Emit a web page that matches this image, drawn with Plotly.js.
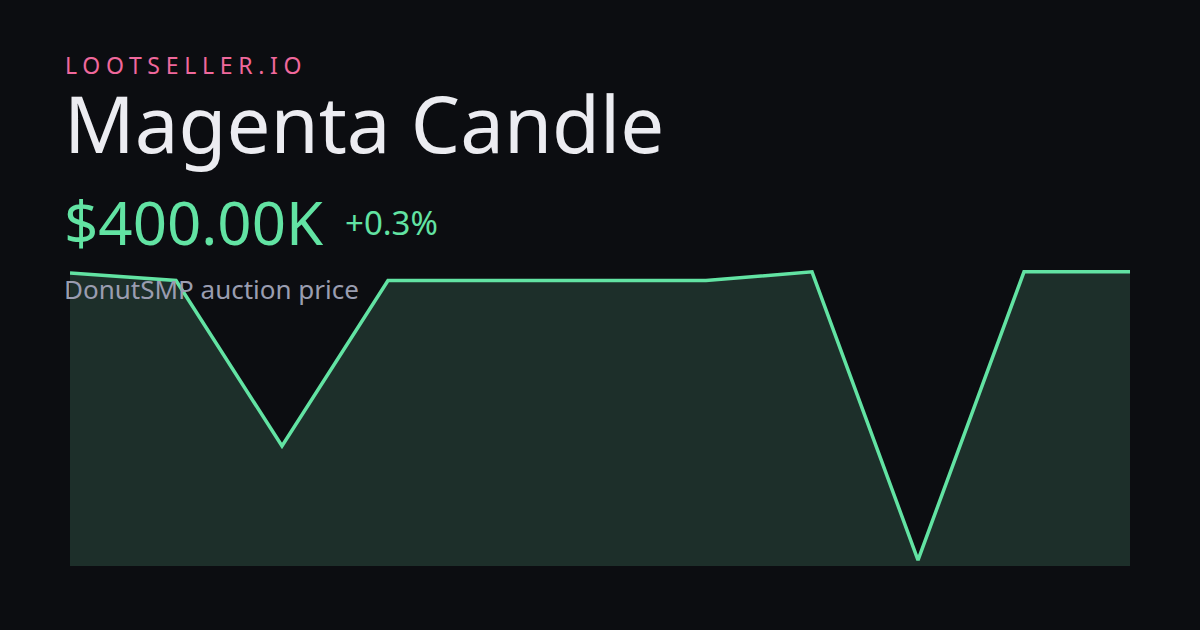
<!DOCTYPE html>
<html><head><meta charset="utf-8">
<script src="https://cdn.plot.ly/plotly-3.0.1.min.js"></script>
<style>html,body{margin:0;padding:0;background:#0c0d11;}#chart{width:1200px;height:630px;}</style>
</head><body><div id="chart"></div>
<script>
const brand = "LOOTSELLER.IO";
const itemName = "Magenta Candle";
const priceLabel = "$400.00K";
const changeLabel = "+0.3%";
const subtitle = "DonutSMP auction price";
const points = [0,1,2,3,4,5,6,7,8,9,10];
const prices = [398.8, 390.4, 207.6, 390.4, 390.4, 390.4, 390.4, 400, 81.6, 400, 400];

const L=70, R=70, T=260.6, B=64, W=1200, H=630;
const pw=W-L-R, ph=H-T-B;
const px = p => (p-L)/pw;
const py = p => (H-B-p)/ph;
const brandSpacing = 5.7;

const green="#62e3a3";
const trace={x:points,y:prices,type:'scatter',mode:'lines',
  line:{color:green,width:3.5,shape:'linear'},fill:'tozeroy',fillcolor:'#1d2f2a',
  cliponaxis:false,hoverinfo:'skip'};
const font="Noto Sans";
const layout={width:W,height:H,paper_bgcolor:'#0c0d11',plot_bgcolor:'rgba(0,0,0,0)',
  margin:{l:L,r:R,t:T,b:B,pad:0},showlegend:false,
  xaxis:{range:[0,10],visible:false,fixedrange:true},
  yaxis:{range:[75,412],visible:false,fixedrange:true},
  annotations:[
    {text:brand,xref:'paper',yref:'paper',x:px(63+brand.length*brandSpacing/2),y:py(64),xanchor:'left',yanchor:'middle',showarrow:false,font:{family:font,size:23,color:'#f0689c'}},
    {text:itemName,xref:'paper',yref:'paper',x:px(62),y:py(122),xanchor:'left',yanchor:'middle',showarrow:false,font:{family:font,size:78,color:'#ececf1'}},
    {text:priceLabel,xref:'paper',yref:'paper',x:px(62),y:py(222),xanchor:'left',yanchor:'middle',showarrow:false,font:{family:font,size:60,color:green}},
    {text:changeLabel,xref:'paper',yref:'paper',x:px(343),y:py(222),xanchor:'left',yanchor:'middle',showarrow:false,font:{family:font,size:33,color:green}},
    {text:subtitle,xref:'paper',yref:'paper',x:px(62),y:py(288.5),xanchor:'left',yanchor:'middle',showarrow:false,font:{family:font,size:26,color:'#9a9db0'}}
  ]};
Plotly.newPlot('chart',[trace],layout,{displayModeBar:false,staticPlot:true}).then(()=>{
  const t=document.querySelectorAll('.annotation-text')[0];
  if(t){t.style.letterSpacing=brandSpacing+'px';}
});
</script></body></html>
